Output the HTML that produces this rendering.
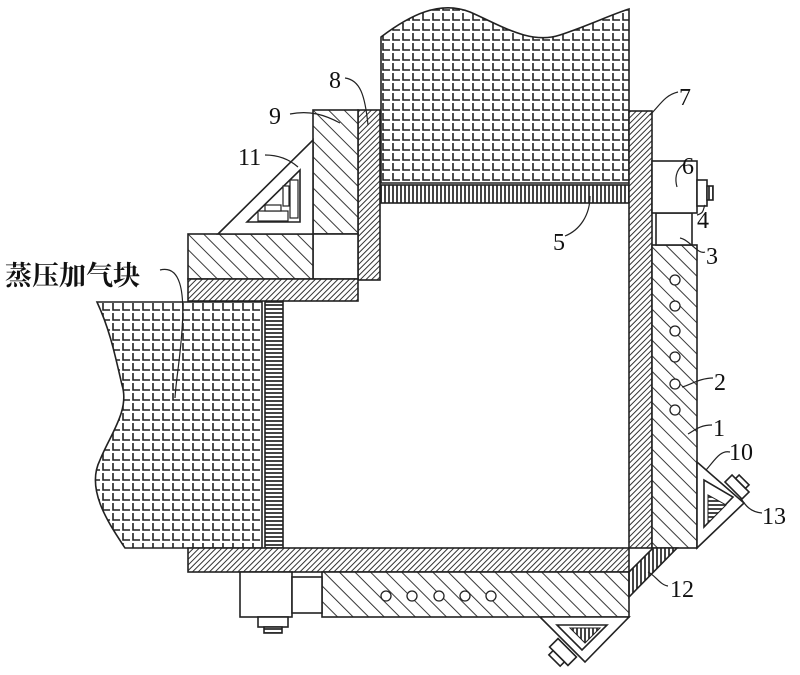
<!DOCTYPE html>
<html><head><meta charset="utf-8"><style>
html,body{margin:0;padding:0;background:#fff;width:800px;height:675px;overflow:hidden}
svg text{font-family:"Liberation Serif","Noto Serif CJK SC",serif;fill:#111}
</style></head><body>
<svg width="800" height="675" viewBox="0 0 800 675" xmlns="http://www.w3.org/2000/svg">
<defs>
<pattern id="grid" width="10" height="10" patternUnits="userSpaceOnUse" x="1" y="2">
<rect width="10" height="10" fill="#fff"/>
<path d="M2 1 V8 H9" fill="none" stroke="#222" stroke-width="1.6"/>
</pattern>
<pattern id="diag" width="11" height="11" patternUnits="userSpaceOnUse" patternTransform="rotate(-45)">
<rect width="11" height="11" fill="#fff"/>
<line x1="0" y1="0" x2="0" y2="11" stroke="#222" stroke-width="1.8"/>
</pattern>
<pattern id="dense" width="4" height="4" patternUnits="userSpaceOnUse" patternTransform="rotate(45)">
<rect width="4" height="4" fill="#fff"/>
<line x1="0" y1="0" x2="0" y2="4" stroke="#333" stroke-width="2"/>
</pattern>
<pattern id="vl" width="4" height="4" patternUnits="userSpaceOnUse">
<rect width="4" height="4" fill="#fff"/>
<line x1="1" y1="0" x2="1" y2="4" stroke="#222" stroke-width="1.7"/>
</pattern>
<pattern id="hl" width="4" height="4" patternUnits="userSpaceOnUse">
<rect width="4" height="4" fill="#fff"/>
<line x1="0" y1="1" x2="4" y2="1" stroke="#222" stroke-width="1.7"/>
</pattern>
</defs>
<g stroke="#222" stroke-width="1.6">
<path d="M381 37 C410 15 440 0 470 12 C500 25 530 45 560 35 C590 25 610 15 629 9 L629 183 L381 183 Z" fill="url(#grid)"/>
<rect x="381" y="185" width="248" height="18" fill="url(#vl)"/>
<rect x="629" y="111" width="23" height="437" fill="url(#dense)"/>
<rect x="358" y="110" width="22" height="170" fill="url(#dense)"/>
<rect x="313" y="110" width="45" height="124" fill="url(#diag)"/>
<rect x="313" y="234" width="45" height="45" fill="#fff"/>
<rect x="188" y="234" width="125" height="45" fill="url(#diag)"/>
<rect x="188" y="279" width="170" height="22" fill="url(#dense)"/>
<path d="M218 234 L313 140 L313 234 Z" fill="#fff"/>
<path d="M247 222 L300 170 L300 222 Z" fill="#fff"/>
<rect x="290" y="180" width="8" height="38" fill="#fff" stroke-width="1.2"/>
<rect x="283" y="186" width="6" height="20" fill="#fff" stroke-width="1.2"/>
<rect x="258" y="211" width="30" height="10" fill="#fff" stroke-width="1.2"/>
<rect x="265" y="205" width="16" height="6" fill="#fff" stroke-width="1.2"/>
<path d="M97 302 L262 302 L262 548 L125 548 C110 525 85 490 100 460 C110 435 130 410 122 385 C115 355 110 330 97 302 Z" fill="url(#grid)"/>
<rect x="265" y="302" width="18" height="246" fill="url(#hl)"/>
<rect x="188" y="548" width="441" height="24" fill="url(#dense)"/>
<rect x="322" y="572" width="307" height="45" fill="url(#diag)"/>
<g fill="#fff" stroke-width="1.3">
<circle cx="386" cy="596" r="5"/><circle cx="412" cy="596" r="5"/><circle cx="439" cy="596" r="5"/><circle cx="465" cy="596" r="5"/><circle cx="491" cy="596" r="5"/>
</g>
<rect x="240" y="572" width="52" height="45" fill="#fff"/>
<rect x="292" y="577" width="30" height="36" fill="#fff"/>
<rect x="258" y="617" width="30" height="10" fill="#fff"/>
<rect x="264" y="627" width="18" height="6" fill="url(#hl)"/>
<rect x="652" y="245" width="45" height="303" fill="url(#diag)"/>
<g fill="#fff" stroke-width="1.3">
<circle cx="675" cy="280" r="5"/><circle cx="675" cy="306" r="5"/><circle cx="675" cy="331" r="5"/><circle cx="675" cy="357" r="5"/><circle cx="675" cy="384" r="5"/><circle cx="675" cy="410" r="5"/>
</g>
<rect x="656" y="213" width="36" height="32" fill="#fff"/>
<rect x="652" y="161" width="45" height="52" fill="#fff"/>
<rect x="697" y="180" width="10" height="26" fill="#fff"/>
<rect x="707" y="186" width="6" height="14" fill="url(#vl)"/>
<path d="M629 572 L653 548 L677 548 L629 597 Z" fill="url(#vl)"/>
<path d="M697 548 L697 462 L744 503 Z" fill="#fff"/>
<path d="M704 480 L704 527 L733 497 Z" fill="#fff"/>
<path d="M708 495 L708 523 L726 505 Z" fill="url(#hl)" stroke-width="1"/>
<g transform="translate(737,487) rotate(45)">
<rect x="-12" y="-5" width="24" height="10" fill="#fff"/>
<rect x="-7" y="-10" width="14" height="5" fill="#fff"/>
</g>
<path d="M629 617 L540 617 L585 662 Z" fill="#fff"/>
<path d="M557 625 L607 625 L582 650 Z" fill="#fff"/>
<path d="M570 628 L600 628 L585 643 Z" fill="url(#vl)" stroke-width="1"/>
<g transform="translate(563,652) rotate(45)">
<rect x="-13" y="-6" width="26" height="12" fill="#fff"/>
<rect x="-8" y="6" width="16" height="6" fill="#fff"/>
</g>
</g>
<g fill="none" stroke="#222" stroke-width="1.2">
<path d="M160 270 C180 265 185 290 182 330 C180 360 176 380 175 398"/>
<path d="M345 78 C360 80 365 95 368 125"/>
<path d="M290 114 C310 110 325 115 340 123"/>
<path d="M265 155 C280 155 290 160 298 167"/>
<path d="M678 92 C665 95 660 105 650 115"/>
<path d="M684 164 C675 170 675 180 677 187"/>
<path d="M697 215 C705 213 703 208 705 205"/>
<path d="M705 252 C698 255 690 240 680 238"/>
<path d="M565 236 C580 230 590 215 590 196"/>
<path d="M713 378 C700 378 690 385 682 387"/>
<path d="M712 425 C700 425 695 430 688 434"/>
<path d="M730 452 C720 450 715 460 706 470"/>
<path d="M762 513 C750 512 745 505 740 497"/>
<path d="M668 586 C660 585 655 575 648 572"/>
</g>
<text x="5" y="285" font-size="27" font-family="Noto Sans CJK SC, sans-serif" font-weight="bold">蒸压加气块</text>
<g font-size="24">
<text x="329" y="88">8</text>
<text x="269" y="124">9</text>
<text x="238" y="165">11</text>
<text x="679" y="105">7</text>
<text x="682" y="174">6</text>
<text x="697" y="228">4</text>
<text x="706" y="264">3</text>
<text x="553" y="250">5</text>
<text x="714" y="390">2</text>
<text x="713" y="436">1</text>
<text x="729" y="460">10</text>
<text x="762" y="524">13</text>
<text x="670" y="597">12</text>
</g>
</svg>
</body></html>
